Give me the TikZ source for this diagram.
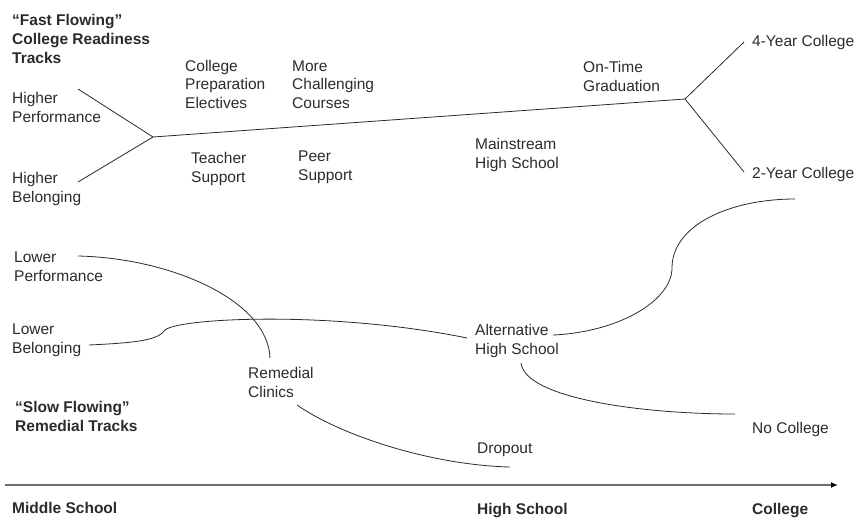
\documentclass[tikz,border=0pt]{standalone}
\usepackage{fontspec}
\setmainfont{Liberation Sans}
\usetikzlibrary{arrows.meta}
\definecolor{ink}{HTML}{2B2B2B}
\definecolor{axisgray}{HTML}{707070}

\begin{document}
\begin{tikzpicture}[x=1pt,y=-1pt,
    font=\fontsize{15.5}{18.8}\selectfont,
    lbl/.style={align=left,anchor=base west,inner sep=0pt,text=ink},
    head/.style={lbl,font=\fontsize{15.5}{18.8}\selectfont\bfseries},
    flow/.style={draw=ink,line width=0.8pt}]
\useasboundingbox (0,0) rectangle (858,519);
\node[head] (fast) at (12,63.6) {“Fast Flowing”\\College Readiness\\Tracks};
\node[lbl] (hperf) at (12,122.5) {Higher\\Performance};
\node[lbl] (hbel) at (12,202.5) {Higher\\Belonging};
\node[lbl] (cpe) at (185,108.6) {College\\Preparation\\Electives};
\node[lbl] (mcc) at (292,108.6) {More\\Challenging\\Courses};
\node[lbl] (tsup) at (191,182) {Teacher\\Support};
\node[lbl] (psup) at (298,180) {Peer\\Support};
\node[lbl] (mhs) at (475,168.5) {Mainstream\\High School};
\node[lbl] (otg) at (583,91) {On-Time\\Graduation};
\node[lbl] (four) at (752,47) {4-Year College};
\node[lbl] (two) at (752,178) {2-Year College};
\node[lbl] (lperf) at (14,281) {Lower\\Performance};
\node[lbl] (lbel) at (12,353) {Lower\\Belonging};
\node[lbl] (rc) at (248,397) {Remedial\\Clinics};
\node[head] (slow) at (15,431) {“Slow Flowing”\\Remedial Tracks};
\node[lbl] (alt) at (475,354) {Alternative\\High School};
\node[lbl] (noc) at (752,433) {No College};
\node[lbl] (drop) at (477,453) {Dropout};
\node[head] (ms) at (12,513) {Middle School};
\node[head] (hs) at (477,514) {High School};
\node[head] (col) at (752,514) {College};
\coordinate (hp) at (78,89);
\coordinate (hb) at (78,182);
\coordinate (j1) at (153,137);
\coordinate (j2) at (685,99);
\coordinate (y4) at (744,42);
\coordinate (y2) at (744,172);
\coordinate (lp) at (78,256);
\coordinate (rcin) at (270,358);
\coordinate (lb) at (89,345);
\coordinate (kink) at (164,331);
\coordinate (altin) at (467,338);
\coordinate (rcout) at (297,405);
\coordinate (dropin) at (510,467);
\coordinate (altout) at (553,335);
\coordinate (mid) at (672,268);
\coordinate (ccin) at (795,199);
\coordinate (altdown) at (521,363);
\coordinate (nocin) at (735,414);
\coordinate (t0) at (5,485);
\coordinate (t1) at (838,485);
\draw[flow] (hp) -- (j1);
\draw[flow] (hb) -- (j1);
\draw[flow] (j1) -- (j2);
\draw[flow] (j2) -- (y4);
\draw[flow] (j2) -- (y2);
\draw[flow] (lp) .. controls (170,258) and (268,300) .. (rcin);
\draw[flow] (lb) .. controls (130,343) and (157,341) .. (kink)
  .. controls (172,318) and (330,310) .. (altin);
\draw[flow] (rcout) .. controls (340,435) and (430,465) .. (dropin);
\draw[flow] (altout) .. controls (620,332) and (672,300) .. (mid)
  .. controls (672,225) and (730,199) .. (ccin);
\draw[flow] (altdown) .. controls (525,398) and (640,414) .. (nocin);
\draw[draw=axisgray,line width=1.6pt,-{Latex[length=7pt,width=6pt,color=black]}] (t0) -- (t1);
\end{tikzpicture}
\end{document}
